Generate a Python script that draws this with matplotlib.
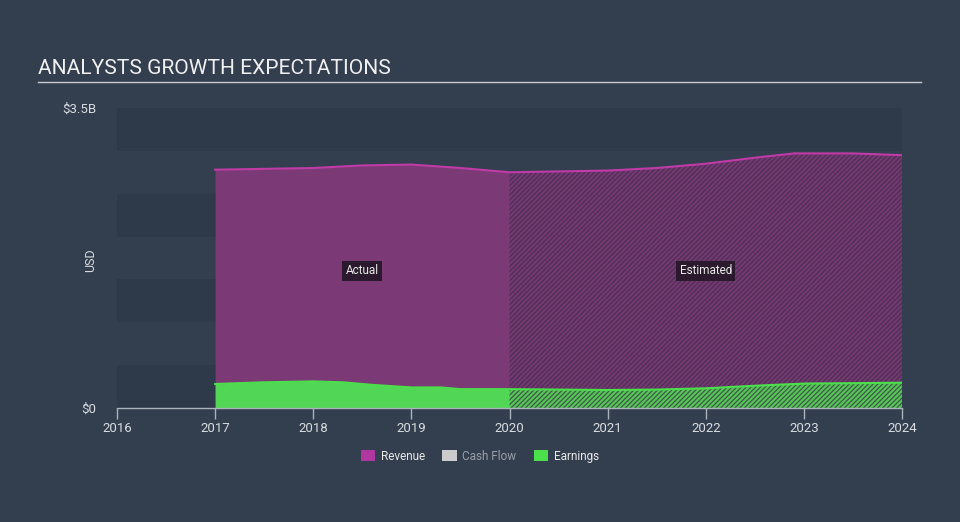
import matplotlib.pyplot as plt
import numpy as np
from matplotlib.patches import Patch

plt.rcParams["font.family"] = ["Roboto", "DejaVu Sans"]
plt.rcParams["hatch.linewidth"] = 0.9

# data, $ billions
rev_years = [2017.0, 2017.5, 2018.0, 2018.5, 2019.0, 2019.5, 2020.0,
             2020.5, 2021.0, 2021.5, 2022.0, 2022.5, 2022.9, 2023.5, 2024.0]
revenue = [2.78, 2.79, 2.80, 2.83, 2.84, 2.80, 2.75,
           2.76, 2.77, 2.80, 2.85, 2.92, 2.97, 2.97, 2.95]

earn_years = [2017.0, 2017.5, 2018.0, 2018.3, 2018.6, 2019.0, 2019.3, 2019.5,
              2020.0, 2021.0, 2021.5, 2022.0, 2022.5, 2023.0, 2024.0]
earnings = [0.28, 0.30, 0.31, 0.30, 0.27, 0.24, 0.24, 0.22,
            0.22, 0.21, 0.215, 0.23, 0.26, 0.285, 0.295]

year_ticks = [2016, 2017, 2018, 2019, 2020, 2021, 2022, 2023, 2024]
split_year = 2020.0
y_max = 3.5

BG = "#333f4f"
BAND = "#2e3a49"
REV_FILL = "#7b3a75"
REV_LINE = "#c03aa8"
EARN_FILL = "#52d656"
EARN_LINE = "#4be04b"
TEXT = "#d8dce0"

fig = plt.figure(figsize=(9.6, 5.22), dpi=100, facecolor=BG)
ax = fig.add_axes([117 / 960, 114 / 522, 785 / 960, 300 / 522])
ax.set_facecolor(BG)

# alternating horizontal bands
for i in range(7):
    if i % 2 == 0:
        ax.axhspan(i * 0.5, (i + 1) * 0.5, color=BAND, lw=0, zorder=0)


def split(xs, ys):
    xs = np.asarray(xs)
    ys = np.asarray(ys)
    a = xs <= split_year
    e = xs >= split_year
    return xs[a], ys[a], xs[e], ys[e]


rx_a, ry_a, rx_e, ry_e = split(rev_years, revenue)
ex_a, ey_a, ex_e, ey_e = split(earn_years, earnings)

ax.fill_between(rx_a, 0, ry_a, color=REV_FILL, lw=0, zorder=2)
ax.fill_between(rx_e, 0, ry_e, facecolor="#753873", edgecolor="#4c3153",
                hatch="///////", lw=0, zorder=2)
ax.plot(rev_years, revenue, color=REV_LINE, lw=1.5, zorder=3)

ax.fill_between(ex_a, 0, ey_a, color=EARN_FILL, lw=0, zorder=4)
ax.fill_between(ex_e, 0, ey_e, facecolor="#56c656", edgecolor="#3e5a4a",
                hatch="///////", lw=0, zorder=4)
ax.plot(earn_years, earnings, color=EARN_LINE, lw=1.5, zorder=5)

box = dict(boxstyle="square,pad=0.3", facecolor="#2b1a2e", edgecolor="none")
ax.text((2017 + split_year) / 2, 1.6, "Actual", color="#e8e8e8", fontsize=8.5,
        ha="center", va="center", bbox=box, zorder=6)
ax.text((split_year + 2024) / 2, 1.6, "Estimated", color="#e8e8e8", fontsize=8.5,
        ha="center", va="center", bbox=box, zorder=6)

ax.set_xlim(2016, 2024)
ax.set_ylim(0, y_max)
ax.set_xticks(year_ticks)
ax.set_xticklabels([str(y) for y in year_ticks])
ax.set_yticks([0, y_max])
ax.set_yticklabels(["$0", "$3.5B"])
ax.tick_params(axis="x", colors="#aab2bc", labelcolor=TEXT, labelsize=9.5,
               length=8, width=1, pad=2)
ax.tick_params(axis="y", length=0, labelcolor=TEXT, labelsize=9.5, pad=15)
for s in ["top", "right", "left"]:
    ax.spines[s].set_visible(False)
ax.spines["bottom"].set_color("#aab2bc")
ax.spines["bottom"].set_linewidth(1)
ax.spines["bottom"].set_zorder(7)

fig.text(91 / 960, 1 - 260 / 522, "USD", rotation=90, color=TEXT, fontsize=9,
         ha="center", va="center")

fig.text(38 / 960, 1 - 68 / 522, "ANALYSTS GROWTH EXPECTATIONS", color="#f0f0f0",
         fontsize=15.1, ha="left", va="center")
fig.add_artist(plt.Line2D([38 / 960, 921 / 960], [1 - 82 / 522, 1 - 82 / 522],
                          color="#c8ccd0", lw=1))

handles = [Patch(facecolor="#b0379f"), Patch(facecolor="#cccccc"),
           Patch(facecolor=EARN_LINE)]
leg = fig.legend(handles, ["Revenue", "Cash Flow", "Earnings"], loc="center",
                 bbox_to_anchor=(0.5, 1 - 456 / 522), ncol=3, frameon=False,
                 fontsize=8.5, handlelength=1.2, handleheight=1.0,
                 handletextpad=0.5, columnspacing=1.5)
for t, c in zip(leg.get_texts(), ["#e8e8e8", "#9aa0a8", "#e8e8e8"]):
    t.set_color(c)

fig.savefig("out.png", dpi=100, facecolor=BG)
